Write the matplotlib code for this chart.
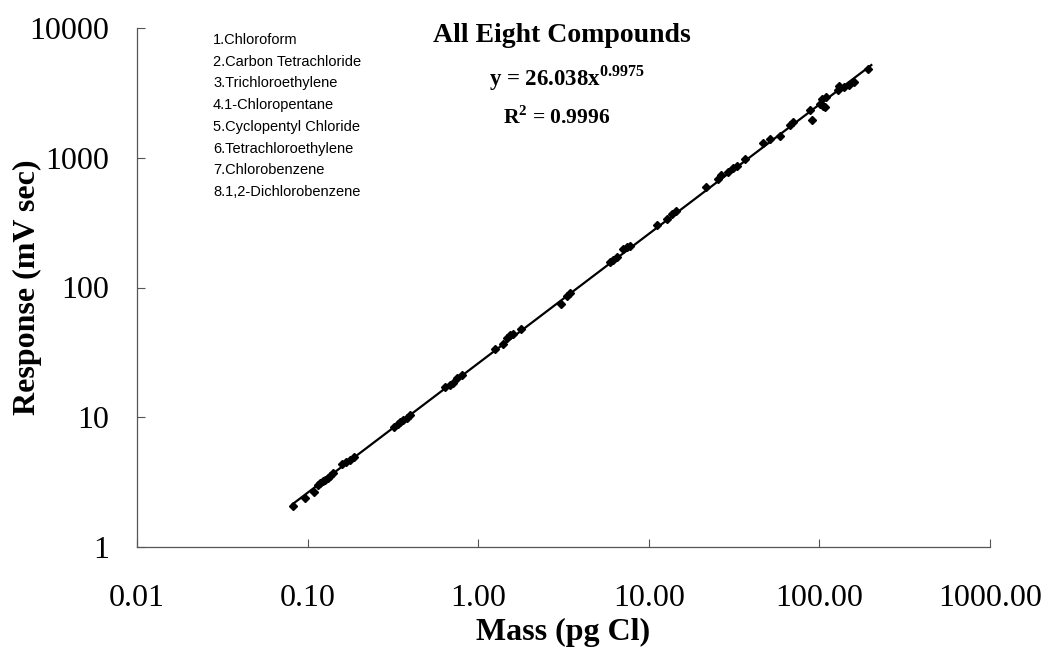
import numpy as np
import matplotlib
matplotlib.use("Agg")
import matplotlib.pyplot as plt
from matplotlib.ticker import FixedLocator, FixedFormatter, NullLocator

# ------------------ Data ------------------
mass = [0.082, 0.097, 0.109, 0.115, 0.119, 0.123, 0.127, 0.131, 0.136, 0.140,
        0.160, 0.168, 0.178, 0.186,
        0.32, 0.34, 0.35, 0.36, 0.38, 0.40,
        0.64, 0.68, 0.71, 0.75, 0.80,
        1.25, 1.39, 1.47, 1.53, 1.60, 1.78,
        3.06, 3.30, 3.45,
        5.9, 6.2, 6.5, 7.1, 7.5, 7.8,
        11.2, 12.8, 13.6, 14.4,
        21.7, 25.5, 26.5, 29.0, 31.0, 33.0, 36.6,
        46.5, 51.3, 58.8, 67, 70, 88, 90, 101, 103, 105, 108, 110,
        128, 130, 140, 150, 160, 192]
response = [2.07, 2.40, 2.67, 3.0, 3.1, 3.2, 3.3, 3.4, 3.55, 3.7,
            4.4, 4.5, 4.7, 4.9,
            8.4, 8.9, 9.2, 9.5, 9.9, 10.4,
            17.0, 17.8, 18.5, 20.2, 21.0,
            33.5, 37.0, 40.5, 43.0, 43.5, 47.5,
            75, 86, 90,
            158, 162, 172, 198, 205, 208,
            305, 340, 370, 392,
            600, 690, 730, 780, 830, 870, 980,
            1290, 1400, 1480, 1800, 1870, 2320, 1950, 2600, 2850, 2500, 2450, 2950,
            3350, 3550, 3500, 3650, 3850, 4800]

fit_a = 26.038
fit_b = 0.9975
fit_r2 = 0.9996

compounds = ["1.Chloroform", "2.Carbon Tetrachloride", "3.Trichloroethylene",
             "4.1-Chloropentane", "5.Cyclopentyl Chloride", "6.Tetrachloroethylene",
             "7.Chlorobenzene", "8.1,2-Dichlorobenzene"]

x_ticks = [0.01, 0.1, 1, 10, 100, 1000]
x_labels = ["0.01", "0.10", "1.00", "10.00", "100.00", "1000.00"]
y_ticks = [1, 10, 100, 1000, 10000]
y_labels = ["1", "10", "100", "1000", "10000"]

# ------------------ Figure ------------------
plt.rcParams['font.family'] = ['Liberation Serif', 'DejaVu Serif']
plt.rcParams['mathtext.fontset'] = 'custom'
plt.rcParams['mathtext.rm'] = 'Liberation Serif'
plt.rcParams['mathtext.bf'] = 'Liberation Serif:bold'

fig = plt.figure(figsize=(10.44, 6.54), dpi=100)
ax = fig.add_axes([137 / 1044, 107 / 654, 853 / 1044, 519 / 654])

xf = np.logspace(np.log10(min(mass)), np.log10(max(mass) * 1.05), 50)
ax.plot(xf, fit_a * xf ** fit_b, color="black", lw=1.6, zorder=2)
ax.plot(mass, response, linestyle="none", marker="D", ms=4.5,
        color="black", zorder=3)

ax.set_xscale("log")
ax.set_yscale("log")
ax.set_xlim(0.01, 1000)
ax.set_ylim(1, 10000)

ax.xaxis.set_major_locator(FixedLocator(x_ticks))
ax.xaxis.set_major_formatter(FixedFormatter(x_labels))
ax.yaxis.set_major_locator(FixedLocator(y_ticks))
ax.yaxis.set_major_formatter(FixedFormatter(y_labels))
ax.xaxis.set_minor_locator(NullLocator())
ax.yaxis.set_minor_locator(NullLocator())

ax.tick_params(axis="x", direction="in", length=6, width=0.8, color="#555555",
               labelsize=23, pad=27)
ax.tick_params(axis="y", direction="in", length=6, width=0.8, color="#555555",
               labelsize=23, pad=20)

for side in ["top", "right"]:
    ax.spines[side].set_visible(False)
for side in ["left", "bottom"]:
    ax.spines[side].set_color("#555555")
    ax.spines[side].set_linewidth(0.9)

# axis titles
fig.text(563 / 1044, 1 - 632 / 654, "Mass (pg Cl)",
         fontsize=23, fontweight="bold", ha="center", va="center")
fig.text(27 / 1044, 1 - 287 / 654, "Response (mV sec)", rotation=90,
         fontsize=23, fontweight="bold", ha="center", va="center")

# legend-like list of compounds
for i, name in enumerate(compounds):
    fig.text(213 / 1044, 1 - (40 + i * 21.7) / 654, name,
             fontsize=10.5, va="center", ha="left",
             family=["Liberation Sans Narrow", "Liberation Sans"])

fig.text(562 / 1044, 1 - 36 / 654, "All Eight Compounds",
         fontsize=20, fontweight="bold", ha="center", va="center")
fig.text(567 / 1044, 1 - 78 / 654,
         r"y = %.3fx$^{\mathbf{%.4f}}$" % (fit_a, fit_b),
         fontsize=16.5, fontweight="bold", ha="center", va="center")
fig.text(557 / 1044, 1 - 118 / 654,
         r"R$^{\mathbf{2}}$ = %.4f" % fit_r2,
         fontsize=15.5, fontweight="bold", ha="center", va="center")

fig.savefig("out.png", dpi=100)
